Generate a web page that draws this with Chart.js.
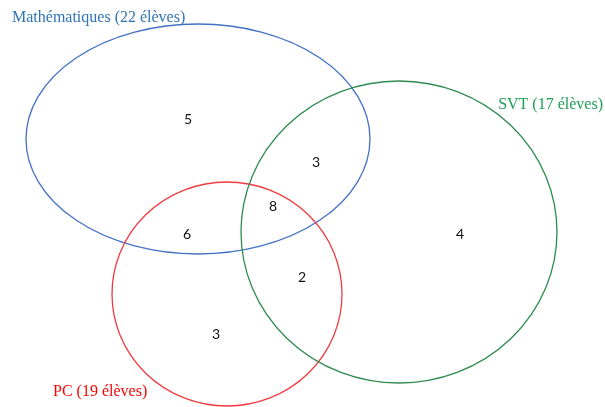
<!DOCTYPE html>
<html lang="fr">
<head>
<meta charset="utf-8">
<title>Diagramme de Venn</title>
<script src="https://cdn.jsdelivr.net/npm/chart.js@4.4.1/dist/chart.umd.min.js"></script>
<style>
  html, body { margin: 0; padding: 0; background: #fff; }
  #wrap { width: 605px; height: 407px; }
</style>
</head>
<body>
<div id="wrap"><canvas id="venn"></canvas></div>
<script>
// Sets and their totals
const setNames = ['Mathématiques', 'PC', 'SVT'];
const setTotals = [22, 19, 17];

// Regions of the diagram and how many pupils are in each
const regionNames = ['Maths seul', 'Maths et SVT', 'Maths et PC', 'Les trois', 'PC et SVT', 'PC seul', 'SVT seul'];
const regionCounts = [5, 3, 6, 8, 2, 3, 4];

// Layout, in chart units (axes run 0..605 and 0..407 like the frame)
const setShapes = [
  { cx: 198, cy: 139, rx: 172, ry: 115 },
  { cx: 227, cy: 294, rx: 115, ry: 112 },
  { cx: 399, cy: 232, rx: 158, ry: 151 }
];
const setColors = ['#4472c4', '#f03a3f', '#2e8b4e'];
const labelColors = ['#2e75b6', '#ff0000', '#1fa055'];
const labelPos = [
  { x: 12, y: 18, align: 'left' },
  { x: 53, y: 392, align: 'left' },
  { x: 603, y: 105, align: 'right' }
];
const regionPos = [[188, 119], [316, 162], [187, 234], [273, 206], [302, 277], [216, 334], [460, 234]];

// draws the set outlines and names through the scales
const vennPlugin = {
  id: 'venn',
  beforeDatasetsDraw(chart) {
    const { ctx, scales: { x, y } } = chart;
    ctx.save();
    setShapes.forEach((s, i) => {
      const px = x.getPixelForValue(s.cx);
      const py = y.getPixelForValue(s.cy);
      const rx = Math.abs(x.getPixelForValue(s.cx + s.rx) - px);
      const ry = Math.abs(y.getPixelForValue(s.cy + s.ry) - py);
      ctx.beginPath();
      ctx.ellipse(px, py, rx, ry, 0, 0, Math.PI * 2);
      ctx.strokeStyle = setColors[i];
      ctx.lineWidth = 1.3;
      ctx.stroke();
    });
    ctx.font = '16px "Liberation Serif", "Times New Roman", serif';
    ctx.textBaseline = 'middle';
    setNames.forEach((name, i) => {
      const p = labelPos[i];
      ctx.fillStyle = labelColors[i];
      ctx.textAlign = p.align;
      ctx.fillText(name + ' (' + setTotals[i] + ' élèves)', x.getPixelForValue(p.x), y.getPixelForValue(p.y));
    });
    ctx.restore();
  },
  afterDatasetsDraw(chart) {
    const { ctx } = chart;
    const meta = chart.getDatasetMeta(0);
    ctx.save();
    ctx.font = '14px Lato, "Liberation Sans", sans-serif';
    ctx.fillStyle = '#111';
    ctx.textAlign = 'center';
    ctx.textBaseline = 'middle';
    meta.data.forEach((pt, i) => {
      ctx.fillText(String(regionCounts[i]), pt.x, pt.y);
    });
    ctx.restore();
  }
};

new Chart(document.getElementById('venn'), {
  type: 'scatter',
  data: {
    datasets: [{
      label: 'Effectifs',
      data: regionPos.map((p, i) => ({ x: p[0], y: p[1], name: regionNames[i], v: regionCounts[i] })),
      pointRadius: 0,
      pointHoverRadius: 0
    }]
  },
  options: {
    responsive: true,
    maintainAspectRatio: false,
    animation: false,
    layout: { padding: 0 },
    scales: {
      x: { type: 'linear', min: 0, max: 605, display: false },
      y: { type: 'linear', min: 0, max: 407, reverse: true, display: false }
    },
    plugins: {
      legend: { display: false },
      tooltip: { enabled: false }
    }
  },
  plugins: [vennPlugin]
});
</script>
</body>
</html>
